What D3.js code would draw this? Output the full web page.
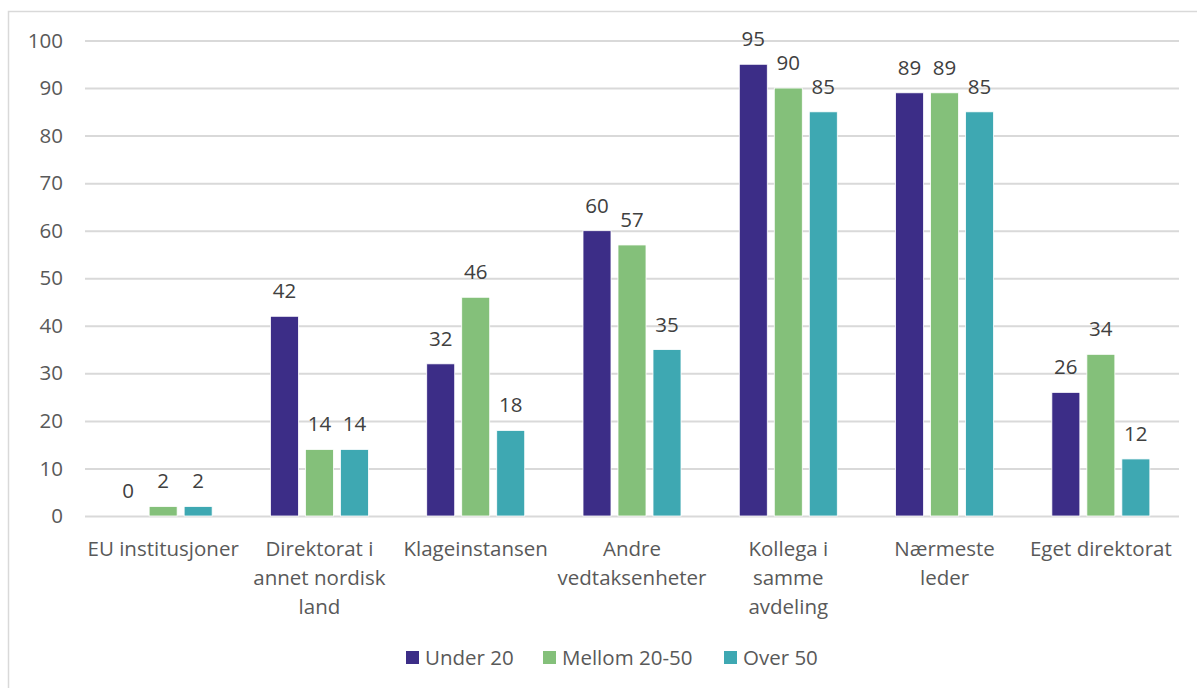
<!DOCTYPE html>
<html>
<head>
<meta charset="utf-8">
<script src="https://cdn.jsdelivr.net/npm/d3@7"></script>
<style>
  html, body { margin: 0; padding: 0; background: #fff; }
  svg { display: block; font-family: "Open Sans", Lato, sans-serif; }
</style>
</head>
<body>
<svg id="chart" width="1197" height="688"></svg>
<script>
// Categories (line breaks mark how each label wraps)
const categories = [
  "EU institusjoner",
  "Direktorat i\nannet nordisk\nland",
  "Klageinstansen",
  "Andre\nvedtaksenheter",
  "Kollega i\nsamme\navdeling",
  "Nærmeste\nleder",
  "Eget direktorat"
];
const seriesNames = ["Under 20", "Mellom 20-50", "Over 50"];
const under20   = [0, 42, 32, 60, 95, 89, 26];
const mellom    = [2, 14, 46, 57, 90, 89, 34];
const over50    = [2, 14, 18, 35, 85, 85, 12];
const yTicks    = [0, 10, 20, 30, 40, 50, 60, 70, 80, 90, 100];
const colors    = ["#3c2d87", "#84c07a", "#3ea8b2"];

const seriesValues = [under20, mellom, over50];

const svg = d3.select("#chart");
const textColor = "#595959";
const fontFamily = "'Open Sans', Lato, sans-serif";
const fs = 20.5;

// outer frame
svg.append("rect")
  .attr("x", 8.5).attr("y", 11.5)
  .attr("width", 1200).attr("height", 700)
  .attr("fill", "none").attr("stroke", "#d9d9d9").attr("stroke-width", 1.5);

const plot = { left: 85, right: 1179, top: 40.5, bottom: 516 };

const y = d3.scaleLinear().domain([0, 100]).range([plot.bottom, plot.top]);
const x0 = d3.scaleBand().domain(d3.range(categories.length))
  .range([plot.left, plot.right]).padding(0);
const groupW = 98;
const x1 = d3.scaleBand().domain(d3.range(seriesNames.length))
  .range([x0.bandwidth() / 2 - groupW / 2, x0.bandwidth() / 2 + groupW / 2])
  .paddingInner(0.2);

// gridlines and y tick labels
const yAxis = d3.axisLeft(y).tickValues(yTicks).tickSize(-(plot.right - plot.left)).tickPadding(22);
const yg = svg.append("g").attr("transform", `translate(${plot.left},0)`).call(yAxis);
yg.select(".domain").remove();
yg.selectAll(".tick line").attr("stroke", "#d9d9d9").attr("stroke-width", 2);
yg.selectAll(".tick text")
  .attr("fill", textColor).attr("font-size", fs)
  .attr("font-family", fontFamily);

// bars
const groups = svg.append("g").selectAll("g")
  .data(categories.map((c, i) => i))
  .join("g")
  .attr("transform", i => `translate(${x0(i)},0)`);

groups.selectAll("rect")
  .data(i => seriesValues.map((vals, s) => ({ s, v: vals[i] })))
  .join("rect")
  .attr("x", d => x1(d.s))
  .attr("width", x1.bandwidth())
  .attr("y", d => y(d.v))
  .attr("height", d => y(0) - y(d.v))
  .attr("fill", d => colors[d.s])
  .attr("stroke", "#ffffff")
  .attr("stroke-width", 0.8);

// value labels
groups.selectAll("text.val")
  .data(i => seriesValues.map((vals, s) => ({ s, v: vals[i] })))
  .join("text")
  .attr("class", "val")
  .attr("x", d => x1(d.s) + x1.bandwidth() / 2)
  .attr("y", d => y(d.v) - 18)
  .attr("text-anchor", "middle")
  .attr("fill", "#404040")
  .attr("font-size", fs)
  .text(d => d.v);

// category labels
const catLabels = svg.append("g").selectAll("text")
  .data(categories)
  .join("text")
  .attr("x", (c, i) => x0(i) + x0.bandwidth() / 2)
  .attr("y", 556)
  .attr("text-anchor", "middle")
  .attr("fill", textColor)
  .attr("font-size", fs);
catLabels.each(function (c) {
  const t = d3.select(this);
  c.split("\n").forEach((line, k) => {
    t.append("tspan")
      .attr("x", t.attr("x"))
      .attr("dy", k === 0 ? 0 : 29)
      .text(line);
  });
});

// legend
const legendX = [406, 543, 724];
const legend = svg.append("g").selectAll("g")
  .data(seriesNames)
  .join("g")
  .attr("transform", (d, i) => `translate(${legendX[i]},651)`);
legend.append("rect")
  .attr("width", 13).attr("height", 13)
  .attr("fill", (d, i) => colors[i]);
legend.append("text")
  .attr("x", 19).attr("y", 14)
  .attr("fill", textColor)
  .attr("font-size", fs)
  .text(d => d);
</script>
</body>
</html>
